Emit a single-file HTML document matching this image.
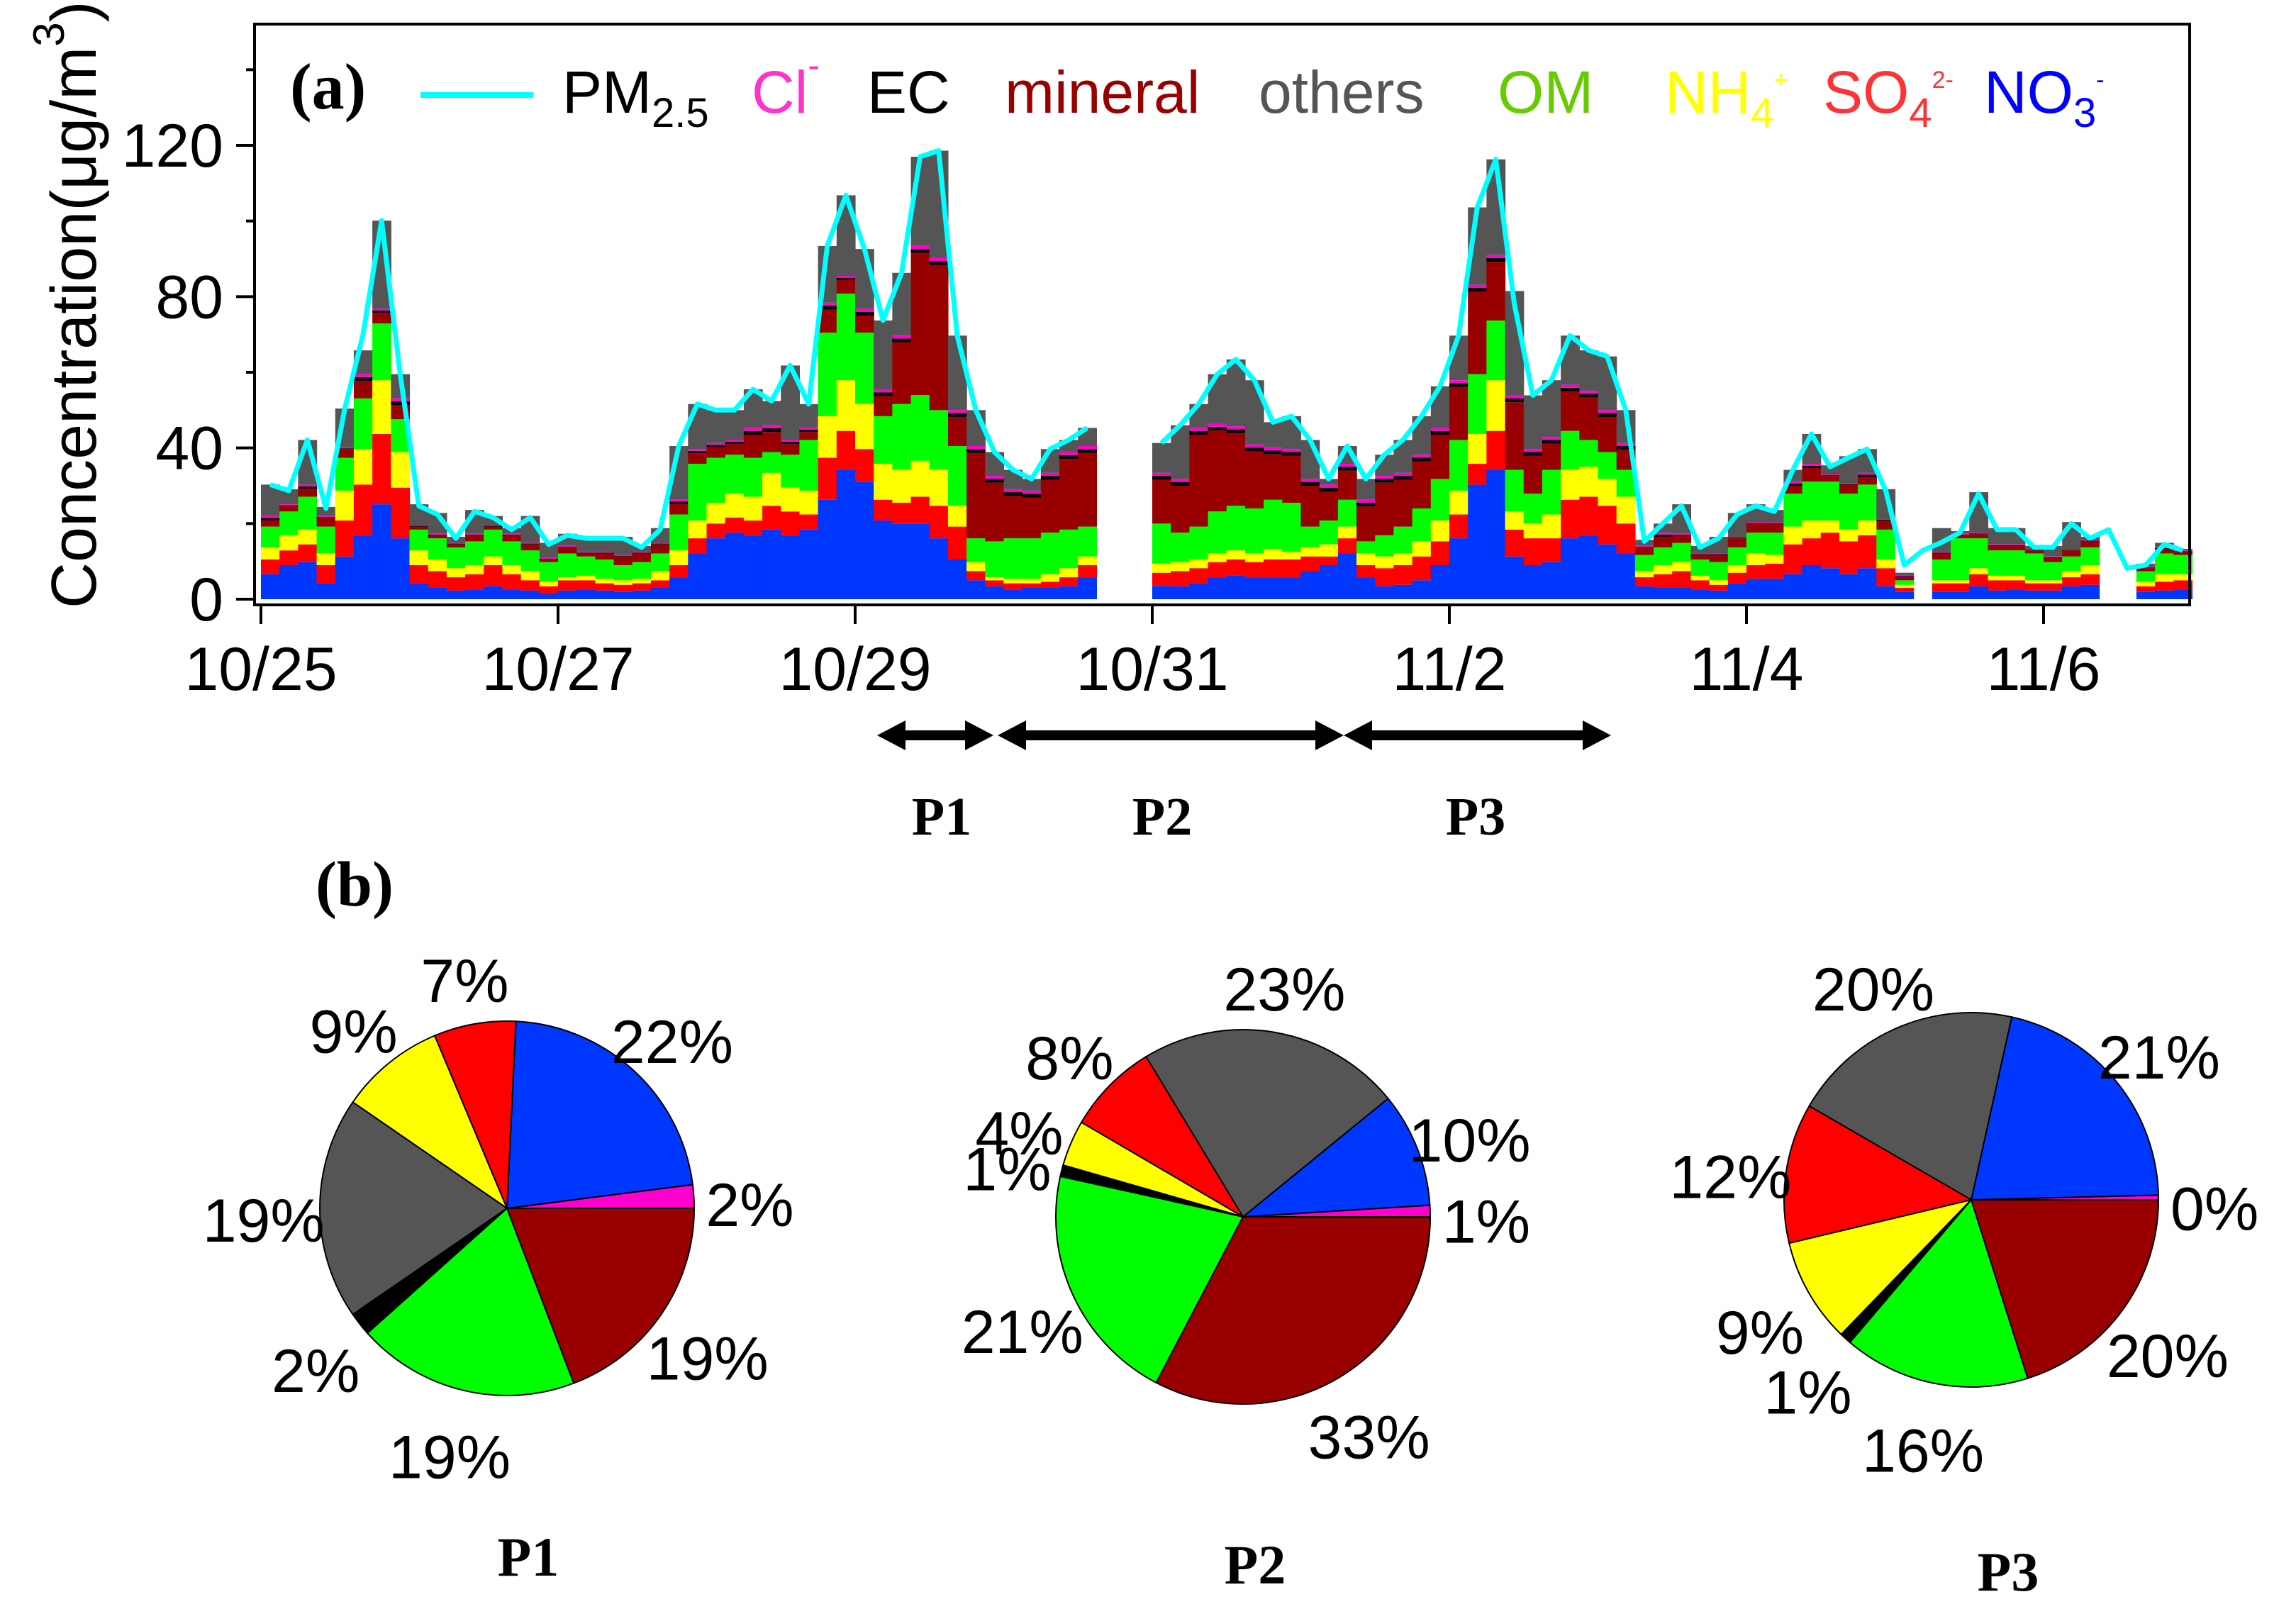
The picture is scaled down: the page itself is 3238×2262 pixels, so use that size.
<!DOCTYPE html>
<html><head><meta charset="utf-8">
<style>
html,body{margin:0;padding:0;background:#fff;}
svg{display:block;}
text{font-family:"Liberation Sans",Arial,sans-serif;}
.serif{font-family:"Liberation Serif","Times New Roman",serif;font-weight:bold;}
</style></head>
<body>
<svg id="fig" xmlns="http://www.w3.org/2000/svg" width="3238" height="2262" viewBox="0 0 3238 2262">
  <rect x="0" y="0" width="3238" height="2262" fill="#fff"/>
  <g id="stack"></g>
  <g id="pmline"></g>
  <rect x="359" y="34" width="2729" height="819" fill="none" stroke="#000" stroke-width="4"/>
  <g id="yaxis"></g>
  <g id="xaxis"></g>
  <text transform="translate(135,858) rotate(-90)" font-size="90">Concentration(μg/m<tspan dy="-45" font-size="62">3</tspan><tspan dy="45">)</tspan></text>
  <text class="serif" x="409" y="153" font-size="92">(a)</text>
  <g font-size="84">
    <line x1="593" y1="134" x2="752" y2="134" stroke="#00ffff" stroke-width="8"/>
    <text x="793" y="159" fill="#000">PM<tspan font-size="58" dy="20">2.5</tspan></text>
    <text x="1060" y="159" fill="#ff33cc">Cl<tspan font-size="50" dy="-50">-</tspan></text>
    <text x="1223" y="159" fill="#000">EC</text>
    <text x="1417" y="159" fill="#990000">mineral</text>
    <text x="1775" y="159" fill="#555555">others</text>
    <text x="2112" y="159" fill="#66cc00">OM</text>
    <text x="2348" y="159" fill="#ffff00">NH<tspan font-size="58" dy="20">4</tspan><tspan font-size="34" dy="-55">+</tspan></text>
    <text x="2571" y="159" fill="#ff3333">SO<tspan font-size="58" dy="20">4</tspan><tspan font-size="34" dy="-55">2-</tspan></text>
    <text x="2798" y="159" fill="#0000ff">NO<tspan font-size="58" dy="20">3</tspan><tspan font-size="34" dy="-55">-</tspan></text>
  </g>
  <g>
    <polygon fill="#000" points="1237,1037 1277,1016 1277,1030 1361,1030 1361,1016 1401,1037 1361,1058 1361,1044 1277,1044 1277,1058"/>
    <polygon fill="#000" points="1407,1037 1447,1016 1447,1030 1855,1030 1855,1016 1895,1037 1855,1058 1855,1044 1447,1044 1447,1058"/>
    <polygon fill="#000" points="1895,1037 1935,1016 1935,1030 2232,1030 2232,1016 2272,1037 2232,1058 2232,1044 1935,1044 1935,1058"/>
    <text class="serif" x="1328" y="1177" font-size="76" text-anchor="middle">P1</text>
    <text class="serif" x="1639" y="1177" font-size="76" text-anchor="middle">P2</text>
    <text class="serif" x="2081" y="1177" font-size="76" text-anchor="middle">P3</text>
  </g>
  <text class="serif" x="500" y="1277" font-size="90" text-anchor="middle">(b)</text>
  <g id="pies"></g>
</svg>
<script>
// ---- time series data (3-hour bins from 10/25 00:00), µg/m3 ----
const binHours = 3;
const xTickLabels = ["10/25","10/27","10/29","10/31","11/2","11/4","11/6"];
const yTickValues = [0,40,80,120];
const no3 = [6.6,9.0,9.8,4.2,11.3,16.9,25.1,16.1,4.2,3.0,2.3,2.6,3.4,2.6,2.3,1.5,2.3,2.6,2.3,1.9,2.3,3.0,5.8,12.1,16.1,17.6,16.9,18.4,16.9,18.4,26.3,34.2,31.0,20.8,20.0,20.0,
 16.1,10.5,5.0,3.4,2.6,3.0,3.0,3.4,5.8,null,null,null,
 3.5,3.4,4.2,5.8,6.2,5.8,5.8,5.8,7.4,9.0,12.1,5.8,3.4,3.8,5.0,9.0,16.1,30.3,34.2,11.3,9.0,9.8,16.1,16.9,14.5,12.1,3.4,3.0,3.0,2.6,2.3,4.2,5.4,5.4,6.6,9.0,8.2,6.6,8.2,3.4,1.9,null,
 1.9,1.9,3.4,2.3,2.6,2.3,2.3,3.4,3.8,null,null,1.9,2.3,2.6];
const so4 = [3.9,3.9,4.7,4.8,9.5,13.4,18.6,13.4,4.8,4.4,3.5,4.0,5.6,4.0,2.7,1.9,2.7,2.4,1.9,1.9,1.9,2.0,3.2,4.0,3.9,4.0,3.9,6.3,6.3,4.0,11.1,10.3,8.7,5.5,5.5,7.1,
 8.6,8.7,2.4,1.6,1.6,1.2,1.6,2.4,3.2,null,null,null,
 3.5,4.0,4.0,4.0,4.3,4.0,4.7,4.7,3.9,2.3,4.0,3.2,4.8,5.2,6.3,6.3,6.3,5.5,10.3,7.1,7.1,6.3,10.2,10.2,10.2,7.9,2.4,3.6,4.4,2.4,1.5,2.8,3.6,4.0,7.9,7.1,9.4,8.7,8.7,4.8,1.1,null,
 2.3,2.3,3.2,2.7,2.4,1.9,1.9,2.4,2.8,null,null,1.5,2.3,2.4];
const nh4 = [3.2,4.0,3.9,3.1,7.9,9.4,14.2,9.4,3.9,3.1,2.4,2.4,2.3,2.4,2.4,1.2,0.8,1.2,1.2,1.2,1.2,2.4,3.9,4.7,5.5,6.3,6.3,8.7,6.3,6.3,11.0,13.4,11.9,9.5,8.7,9.5,
 9.5,5.5,2.4,0.8,1.2,1.2,2.0,2.4,2.3,null,null,null,
 2.4,2.4,2.3,2.3,2.4,2.3,2.8,2.0,2.4,3.2,3.1,3.1,3.1,3.1,4.0,5.5,6.3,7.9,13.4,4.8,3.9,6.3,7.9,7.9,7.1,7.1,1.6,2.4,2.4,1.2,1.2,2.0,3.1,2.3,4.7,4.7,3.2,3.1,3.9,2.3,0.8,null,
 0.8,0.8,1.6,1.2,1.2,0.8,0.8,1.6,2.4,null,null,1.2,2.0,1.6];
const om = [5.5,6.3,8.7,7.1,8.7,13.4,15.0,8.7,5.5,5.6,5.5,6.3,7.1,6.3,5.5,5.2,6.3,5.1,5.1,4.0,4.4,4.7,9.5,15.0,11.9,10.3,10.3,5.5,8.7,13.4,22.1,22.9,18.9,12.6,17.4,17.4,
 15.8,15.8,6.3,9.5,10.7,10.7,11.0,10.2,7.9,null,null,null,
 10.6,7.8,8.7,11.1,11.8,11.9,13.0,13.0,5.5,6.3,7.1,3.2,5.6,7.1,8.7,11.0,13.4,15.8,15.8,11.0,7.9,11.8,10.3,7.1,7.1,7.1,4.3,4.7,5.1,4.3,4.8,4.7,5.5,5.9,8.7,10.3,10.3,9.5,9.5,7.9,1.2,null,
 5.5,11.1,7.9,6.7,6.7,7.1,4.8,3.9,4.7,null,null,2.8,5.5,5.1];
const mineral = [1.7,1.5,2.1,2.4,2.3,4.6,2.8,3.7,0.8,0.8,0.8,1.6,0.8,1.6,1.6,0.7,1.6,0.8,1.6,2.3,2.3,2.4,2.8,2.8,2.8,2.8,6.1,5.3,2.8,2.1,6.1,3.6,4.5,5.3,16.3,37.6,
 38.4,7.7,22.6,15.5,11.2,10.8,14.0,18.7,19.5,null,null,null,
 11.6,12.4,24.3,21.4,19.2,15.1,12.0,12.4,10.8,7.7,7.7,9.2,13.9,12.4,12.4,11.7,14.0,21.8,15.5,17.9,10.0,6.9,10.4,11.2,9.3,5.3,2.0,2.8,2.0,1.2,1.9,2.4,2.4,2.4,2.1,3.6,1.5,2.4,2.0,2.4,0.8,null,
 1.6,0.8,1.1,1.2,1.2,0.8,1.1,1.6,1.6,null,null,0.8,1.2,0.8];
const ec = [0.6,0.2,0.6,0.2,0.2,1.0,0.6,1.0,0.2,0.2,0.2,0.2,0.2,0.2,0.2,0.2,0.2,0.2,0.2,0.2,0.2,0.2,0.6,0.6,0.6,0.6,1.0,1.0,0.6,0.6,1.0,0.6,1.0,1.0,1.0,1.0,
 1.0,1.0,1.0,1.0,1.0,1.0,1.0,1.0,1.0,null,null,null,
 1.0,1.0,1.0,1.0,1.0,1.0,1.0,1.0,1.0,1.0,1.0,1.0,1.0,1.0,1.0,1.0,1.0,1.0,1.0,1.0,1.0,1.0,1.0,1.0,1.0,1.0,0.2,0.6,0.2,0.2,0.2,0.2,0.2,0.2,0.6,0.6,0.2,0.2,0.6,0.2,0.2,null,
 0.2,0.2,0.2,0.2,0.2,0.2,0.2,0.2,0.2,null,null,0.2,0.2,0.2];
const cl = [0.5,0.2,0.5,0.2,0.2,0.8,0.5,0.8,0.2,0.2,0.2,0.2,0.2,0.2,0.2,0.2,0.2,0.2,0.2,0.2,0.2,0.2,0.5,0.5,0.5,0.5,0.8,0.8,0.5,0.5,0.8,0.5,0.8,0.8,0.8,0.8,
 0.8,0.8,0.8,0.8,0.8,0.8,0.8,0.8,0.8,null,null,null,
 0.8,0.8,0.8,0.8,0.8,0.8,0.8,0.8,0.8,0.8,0.8,0.8,0.8,0.8,0.8,0.8,0.8,0.8,0.8,0.8,0.8,0.8,0.8,0.8,0.8,0.8,0.2,0.5,0.2,0.2,0.2,0.2,0.2,0.2,0.5,0.5,0.2,0.2,0.5,0.2,0.2,null,
 0.2,0.2,0.2,0.2,0.2,0.2,0.2,0.2,0.2,null,null,0.2,0.2,0.2];
const others = [8.3,4.0,11.8,2.4,10.3,6.3,23.3,6.4,5.5,5.5,1.6,6.3,2.4,1.5,7.1,4.0,3.2,4.0,4.0,4.8,1.6,3.9,14.2,11.9,8.7,7.9,10.2,6.4,19.7,6.3,15.0,21.3,15.8,18.2,16.6,23.6,
 28.4,19.7,9.5,6.3,5.1,3.1,6.3,3.2,4.8,null,null,null,
 7.9,14.2,6.3,13.1,17.7,17.0,6.7,8.7,10.3,1.5,4.7,5.5,5.6,8.7,10.2,11.0,11.8,20.5,25.3,27.6,14.2,15.0,13.0,10.7,14.2,8.7,1.6,2.4,7.8,2.0,4.4,6.3,4.7,3.2,3.1,7.9,2.4,7.1,6.3,7.9,0.8,null,
 6.3,0.7,10.7,4.3,4.3,0.8,2.8,7.1,0.8,null,null,0.8,1.2,0.4];
const pm25 = [30.3,28.7,42.1,24.0,50.0,70.0,100.1,59.5,24.7,22.4,16.1,23.2,21.6,18.4,21.6,14.5,16.9,16.1,16.1,16.1,13.7,18.4,40.5,51.6,50.0,50.0,55.5,52.4,61.8,51.6,93.4,106.8,92.6,73.7,86.3,117.0,
 118.6,69.7,50.0,38.9,34.2,31.8,39.7,42.1,45.3,null,null,null,
 41.3,46.0,51.6,59.5,63.4,57.9,46.8,48.4,42.1,31.8,40.5,31.8,38.2,42.1,48.4,56.3,69.7,103.6,116.3,78.0,53.9,57.9,69.7,65.8,64.2,50.0,15.3,20.0,24.7,13.7,16.1,22.4,24.7,23.2,34.2,43.7,35.0,37.4,39.7,28.7,9.0,12.9,
 15.0,17.6,27.9,18.4,18.4,13.7,13.7,20.0,16.1,18.4,8.2,9.0,14.5,12.9];

const SVGNS = "http://www.w3.org/2000/svg";
function mk(tag, attrs, parent){const e=document.createElementNS(SVGNS,tag);for(const k in attrs)e.setAttribute(k,attrs[k]);if(parent)parent.appendChild(e);return e;}
const X0 = 368, DAY = 209.5, Y0 = 845, PXU = 5.3333;
const xScale = d => X0 + d*DAY;
const yScale = v => Y0 - v*PXU;

// stacked bars
const layers = [
  {name:"no3", vals:no3, color:"#0037ff"},
  {name:"so4", vals:so4, color:"#ff0000"},
  {name:"nh4", vals:nh4, color:"#ffff00"},
  {name:"om", vals:om, color:"#00ff00"},
  {name:"mineral", vals:mineral, color:"#990000"},
  {name:"ec", vals:ec, color:"#000000"},
  {name:"cl", vals:cl, color:"#ff00cc"},
  {name:"others", vals:others, color:"#555555"}
];
const stackG = document.getElementById('stack');
const n = no3.length;
for(let i=0;i<n;i++){
  let base = 0;
  const xa = xScale(i*binHours/24), xb = xScale((i+1)*binHours/24);
  for(const L of layers){
    const v = L.vals[i];
    if(v===null || v===undefined) continue;
    const r = mk('rect',{x:xa.toFixed(2),y:yScale(base+v).toFixed(2),width:(xb-xa+0.6).toFixed(2),height:(v*PXU).toFixed(2),fill:L.color},stackG);
    
    
    base += v;
  }
}
// PM2.5 line
const lineG = document.getElementById('pmline');
let seg = [];
function flush(){ if(seg.length>1){ const p = mk('polyline',{points:seg.join(' '),fill:'none',stroke:'#00ffff','stroke-width':7,'stroke-linejoin':'round'},lineG);
  
   } seg=[]; }
for(let i=0;i<pm25.length;i++){
  if(pm25[i]===null){flush();continue;}
  seg.push(xScale((i+0.5)*binHours/24).toFixed(1)+','+yScale(pm25[i]).toFixed(1));
}
flush();

// y axis
const yG = document.getElementById('yaxis');
for(let v=0; v<=140; v+=20){
  const major = yTickValues.indexOf(v)>=0;
  const t = mk('line',{x1:major?333:347,x2:359,y1:yScale(v),y2:yScale(v),stroke:'#000','stroke-width':4},yG);
  
  
}
for(const v of yTickValues){
  const t = mk('text',{x:315,y:yScale(v)+30,'font-size':86,'text-anchor':'end'},yG);
  t.textContent = v;
  
  
}
// x axis
const xG = document.getElementById('xaxis');
xTickLabels.forEach((lab,k)=>{
  const x = xScale(k*2);
  const t = mk('line',{x1:x,x2:x,y1:853,y2:880,stroke:'#000','stroke-width':4},xG);
  
  
  const tx = mk('text',{x:x,y:973,'font-size':86,'text-anchor':'middle'},xG);
  tx.textContent = lab;
  
  
});

// ---- pie data ----
const pieColors = {cl:"#ff00cc",no3:"#0037ff",so4:"#ff0000",nh4:"#ffff00",others:"#555555",ec:"#000000",om:"#00ff00",mineral:"#990000"};
const p1Order = ["cl","no3","so4","nh4","others","ec","om","mineral"];
const p1Values = [2,22,7,9,19,2,19,19];
const p1Labels = ["2%","22%","7%","9%","19%","2%","19%","19%"];
const p2Order = ["cl","no3","others","so4","nh4","ec","om","mineral"];
const p2Values = [1,10,23,8,4,1,21,33];
const p2Labels = ["1%","10%","23%","8%","4%","1%","21%","33%"];
const p3Order = ["cl","no3","others","so4","nh4","ec","om","mineral"];
const p3Values = [0.4,21,20,12,9,1,16,20];
const p3Labels = ["0%","21%","20%","12%","9%","1%","16%","20%"];
const pies = [
  {id:"p1", cx:715, cy:1704, order:p1Order, vals:p1Values, labels:p1Labels, title:"P1", tx:745, ty:2222},
  {id:"p2", cx:1753, cy:1716, order:p2Order, vals:p2Values, labels:p2Labels, title:"P2", tx:1770, ty:2233},
  {id:"p3", cx:2780, cy:1692, order:p3Order, vals:p3Values, labels:p3Labels, title:"P3", tx:2832, ty:2243}
];
const R = 264;
const piesG = document.getElementById('pies');
pies.forEach(P=>{
  const g = mk('g',{},piesG);
  
  
  const tot = P.vals.reduce((a,b)=>a+b,0);
  let a0 = 0;
  P.vals.forEach((v,k)=>{
    const a1 = a0 + v/tot*2*Math.PI;
    const x0 = P.cx + R*Math.cos(a0), y0 = P.cy - R*Math.sin(a0);
    const x1 = P.cx + R*Math.cos(a1), y1 = P.cy - R*Math.sin(a1);
    const large = (a1-a0)>Math.PI?1:0;
    const path = mk('path',{d:`M${P.cx},${P.cy} L${x0.toFixed(2)},${y0.toFixed(2)} A${R},${R} 0 ${large} 0 ${x1.toFixed(2)},${y1.toFixed(2)} Z`,fill:pieColors[P.order[k]],stroke:'#000','stroke-width':2},g);
    
    
    const am = (a0+a1)/2, lr = R*1.3;
    const t = mk('text',{x:(P.cx+lr*Math.cos(am)).toFixed(1),y:(P.cy-lr*Math.sin(am)+18).toFixed(1),'font-size':86,'text-anchor':'middle','dominant-baseline':'central'},g);
    t.textContent = P.labels[k];
    
    
    a0 = a1;
  });
  const tt = mk('text',{x:P.tx,y:P.ty,'font-size':78,'text-anchor':'middle','class':'serif'},g);
  tt.textContent = P.title;
  
  
});
</script>
</body></html>
